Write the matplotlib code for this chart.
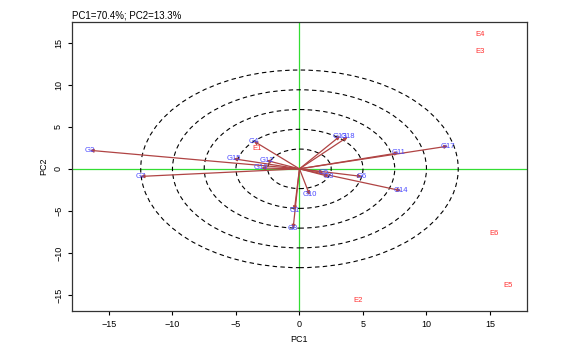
import numpy as np
import matplotlib
matplotlib.use("Agg")
import matplotlib.pyplot as plt
from matplotlib.patches import Ellipse

plt.rcParams['font.family'] = ['Liberation Sans', 'DejaVu Sans']

# genotype vectors (blue, with arrows)
g_names = ["G2", "G7", "G4", "G15", "G12", "G16", "G10", "G1", "G8",
           "G13", "G18", "G11", "G17", "G5", "G3", "G6", "G14"]
g_x = [-16.5, -12.5, -3.6, -5.2, -2.6, -3.0, 0.8, -0.4, -0.5,
       3.2, 3.8, 7.8, 11.7, 1.9, 2.3, 4.9, 8.0]
g_y = [2.2, -0.9, 3.3, 1.2, 1.0, 0.1, -3.1, -4.9, -7.1,
       3.9, 3.8, 1.9, 2.7, -0.4, -0.9, -0.9, -2.6]

# environment scores (red, no arrows)
e_names = ["E1", "E2", "E3", "E4", "E5", "E6"]
e_x = [-3.3, 4.6, 14.2, 14.2, 16.4, 15.3]
e_y = [2.4, -15.7, 13.9, 16.0, -13.9, -7.7]

radii = [2.5, 5.0, 7.5, 10.0, 12.5]

fig = plt.figure(figsize=(5.77, 3.55), dpi=100)
ax = fig.add_axes([0.125, 0.124, 0.788, 0.815])

ax.axhline(0, color="#33dd33", lw=0.9, zorder=1)
ax.axvline(0, color="#33dd33", lw=0.9, zorder=1)

for r in radii:
    ax.add_patch(Ellipse((0, 0), 2 * r, 2 * r * 0.94, fill=False,
                         ls=(0, (4, 3)), lw=0.8, color="black", zorder=2))

for name, x, y in zip(g_names, g_x, g_y):
    ax.annotate("", xy=(x, y), xytext=(0, 0),
                arrowprops=dict(arrowstyle="-|>", color="#b04444", lw=0.9,
                                mutation_scale=5, shrinkA=0, shrinkB=0),
                zorder=3)
    ax.text(x, y, name, color="#4a4aff", fontsize=5.5, ha="center",
            va="center", zorder=4)

for name, x, y in zip(e_names, e_x, e_y):
    ax.text(x, y, name, color="#ff3030", fontsize=5.5, ha="center",
            va="center", zorder=4)

ax.set_xlim(-17.9, 17.9)
ax.set_ylim(-16.9, 17.5)
ax.set_xticks([-15, -10, -5, 0, 5, 10, 15])
ax.set_yticks([-15, -10, -5, 0, 5, 10, 15])
ax.tick_params(labelsize=6.5, length=3, width=0.8)
for lab in ax.get_yticklabels():
    lab.set_rotation(90)
    lab.set_va("center")
ax.set_xlabel("PC1", fontsize=6.5)
ax.set_ylabel("PC2", fontsize=6.5)
ax.set_title("PC1=70.4%; PC2=13.3%", fontsize=7, loc="left", pad=2)
for s in ax.spines.values():
    s.set_linewidth(0.9)
    s.set_color("#333333")

fig.savefig("out.png", dpi=100)
